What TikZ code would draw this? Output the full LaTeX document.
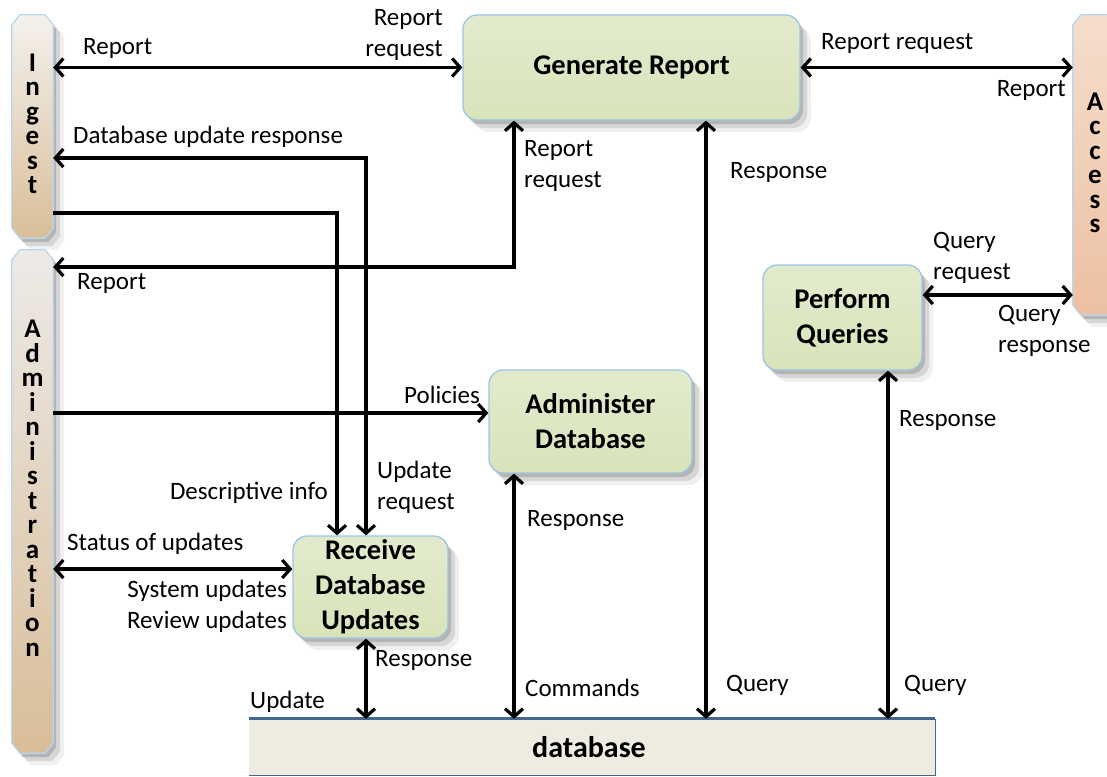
\documentclass[tikz,border=0pt]{standalone}
\usepackage{fontspec}
\setmainfont{Carlito}
\usetikzlibrary{arrows.meta,shadows,calc}
\definecolor{boxlow}{HTML}{EEF4D8}
\definecolor{boxbot}{HTML}{D5E1B4}
\definecolor{boxmid}{HTML}{E3EBCE}
\definecolor{boxtop}{HTML}{F3F6EC}
\definecolor{boxborder}{HTML}{9CC5E6}
\definecolor{barborder}{HTML}{B5D8F0}
\definecolor{ingtop}{HTML}{F4F1ED}
\definecolor{ingbot}{HTML}{D9BE99}
\definecolor{admtop}{HTML}{EDEAE7}
\definecolor{admbot}{HTML}{D8BD98}
\definecolor{acctop}{HTML}{F5DDCD}
\definecolor{accbot}{HTML}{ECC0A2}
\definecolor{dbfill}{HTML}{EEECE1}
\definecolor{dbline}{HTML}{45668E}
\pgfdeclareverticalshading{boxshade}{100bp}{color(0bp)=(boxlow); color(10bp)=(boxbot); color(78bp)=(boxmid); color(90bp)=(boxtop); color(100bp)=(boxtop)}
\newcommand\lblfont{\fontsize{25}{31}\selectfont}
\newcommand\boxfont{\fontsize{28.5}{35}\selectfont\bfseries}
\newcommand\barfont{\fontsize{27}{24.5}\selectfont\bfseries}
\newcommand\dbfont{\fontsize{30}{36}\selectfont\bfseries}
\begin{document}
\begin{tikzpicture}[x=1pt,y=-1pt,
  >={Straight Barb[length=8pt,width=18pt]},
  lbl/.style={font=\lblfont, inner sep=0pt},
  softshadow/.style={
    drop shadow={shadow xshift=3pt,shadow yshift=-4pt,opacity=0.16,fill=black},
    drop shadow={shadow xshift=7pt,shadow yshift=-8pt,opacity=0.11,fill=black},
    drop shadow={shadow xshift=11pt,shadow yshift=-12pt,opacity=0.06,fill=black}},
  proc/.style={draw=boxborder, line width=1.3pt, rounded corners=14pt, shading=boxshade,
    font=\boxfont, align=center, inner sep=0pt, softshadow},
  anchorbox/.style={draw=none, inner sep=0pt},
  barshape/.style={insert path={([xshift=8pt]#1.north west) -- ([xshift=-8pt]#1.north east)
    -- ([yshift=-10pt]#1.north east) -- ([yshift=10pt]#1.south east)
    -- ([xshift=-8pt]#1.south east) -- ([xshift=8pt]#1.south west)
    -- ([yshift=10pt]#1.south west) -- ([yshift=-10pt]#1.north west) -- cycle}},
  barstyle/.style={draw=barborder, line width=1.2pt, softshadow},
  flow/.style={line width=3.2pt, draw=black},
  bartext/.style={font=\barfont, align=center, inner sep=0pt}
]
\useasboundingbox (0,0) rectangle (1107,776);
\clip (0,0) rectangle (1107,776);

% ---------- side bars ----------
\node[anchorbox, minimum width=41pt, minimum height=223pt] (ingest) at (32.5,126.5) {};
\node[anchorbox, minimum width=41pt, minimum height=503pt] (admin) at (32.5,501.5) {};
\node[anchorbox, minimum width=50pt, minimum height=300pt] (access) at (1098,165) {};
\path[barstyle, top color=ingtop, bottom color=ingbot, barshape=ingest];
\path[barstyle, top color=admtop, bottom color=admbot, barshape=admin];
\path[barstyle, top color=acctop, bottom color=accbot, barshape=access];
\node[bartext] (ingestlbl) at (32.5,124) {I\\n\\g\\e\\s\\t};
\node[bartext] (adminlbl) at (32.5,488) {A\\d\\m\\i\\n\\i\\s\\t\\r\\a\\t\\i\\o\\n};
\node[bartext] (accesslbl) at (1095,163) {A\\c\\c\\e\\s\\s};

% ---------- database ----------
\node[anchorbox, fill=dbfill, minimum width=686pt, minimum height=56pt, font=\dbfont] (db) at (592,747) {\hspace*{-6pt}database};
\draw[dbline, line width=1.4pt] (db.north east) -- (db.south east) -- (db.south west);
\draw[dbline, line width=3pt] (db.north west) -- (db.north east);

% ---------- processes ----------
\node[proc, minimum width=337pt, minimum height=105pt] (gen) at (631.5,67.5) {Generate Report};
\node[proc, minimum width=159pt, minimum height=105pt] (pq) at (842.5,317.5) {Perform\\Queries};
\node[proc, minimum width=203pt, minimum height=103pt] (adb) at (590.5,421.5) {Administer\\Database};
\node[proc, minimum width=155pt, minimum height=102pt] (recv) at (370.5,587) {Receive\\Database\\Updates};

% ---------- routing points ----------
\coordinate (pDUR) at (366,158);
\coordinate (pDI) at (337,213);
\coordinate (pRR) at (514,267);
\coordinate (xGQ) at (706,0);
\coordinate (yQR) at (0,295);
\coordinate (xPQ) at (888,0);
\coordinate (yPol) at (0,413);
\coordinate (xAD) at (514,0);
\coordinate (ySt) at (0,569);
\coordinate (xRD) at (366,0);

% ---------- connectors ----------
\draw[flow,<->] (ingest.east |- gen.west) -- (gen.west);
\draw[flow,<->] (gen.east) -- (gen.east -| access.west);
\draw[flow,<->] (recv.north -| pDUR) -- (pDUR) -- (pDUR -| ingest.east);
\draw[flow,->] (pDI -| ingest.east) -- (pDI) -- (recv.north -| pDI);
\draw[flow,<->] (gen.south -| pRR) -- (pRR) -- (pRR -| admin.east);
\draw[flow,<->] (gen.south -| xGQ) -- (db.north -| xGQ);
\draw[flow,<->] (pq.east |- yQR) -- (access.west |- yQR);
\draw[flow,<->] (pq.south -| xPQ) -- (db.north -| xPQ);
\draw[flow,->] (admin.east |- yPol) -- (adb.west |- yPol);
\draw[flow,<->] (adb.south -| xAD) -- (db.north -| xAD);
\draw[flow,<->] (admin.east |- ySt) -- (recv.west |- ySt);
\draw[flow,<->] (recv.south -| xRD) -- (db.north -| xRD);

% ---------- labels ----------
\node[lbl, anchor=west] (l1) at (83,48) {Report};
\node[lbl, anchor=east, align=right] (l2) at (443,35) {Report\\request};
\node[lbl, anchor=west] (l3) at (821,43) {Report request};
\node[lbl, anchor=east] (l4) at (1066,90) {Report};
\node[lbl, anchor=west] (l5) at (73,137) {Database update response};
\node[lbl, anchor=west, align=left] (l6) at (524,166) {Report\\request};
\node[lbl, anchor=west] (l7) at (730,172) {Response};
\node[lbl, anchor=west] (l8) at (77,283) {Report};
\node[lbl, anchor=west, align=left] (l9) at (933,258) {Query\\request};
\node[lbl, anchor=west, align=left] (l10) at (998,331) {Query\\response};
\node[lbl, anchor=east] (l11) at (480,395) {Policies};
\node[lbl, anchor=west] (l12) at (899,420) {Response};
\node[lbl, anchor=west, align=left] (l13) at (377,487) {Update\\request};
\node[lbl, anchor=east] (l14) at (328,493) {Descriptive info};
\node[lbl, anchor=west] (l15) at (527,520) {Response};
\node[lbl, anchor=west] (l16) at (67,544) {Status of updates};
\node[lbl, anchor=east, align=right] (l17) at (287,606) {System updates\\Review updates};
\node[lbl, anchor=west] (l18) at (375,660) {Response};
\node[lbl, anchor=west] (l19) at (250,702) {Update};
\node[lbl, anchor=west] (l20) at (525,688) {Commands};
\node[lbl, anchor=west] (l21) at (726,685) {Query};
\node[lbl, anchor=west] (l22) at (904,685) {Query};
\end{tikzpicture}
\end{document}
